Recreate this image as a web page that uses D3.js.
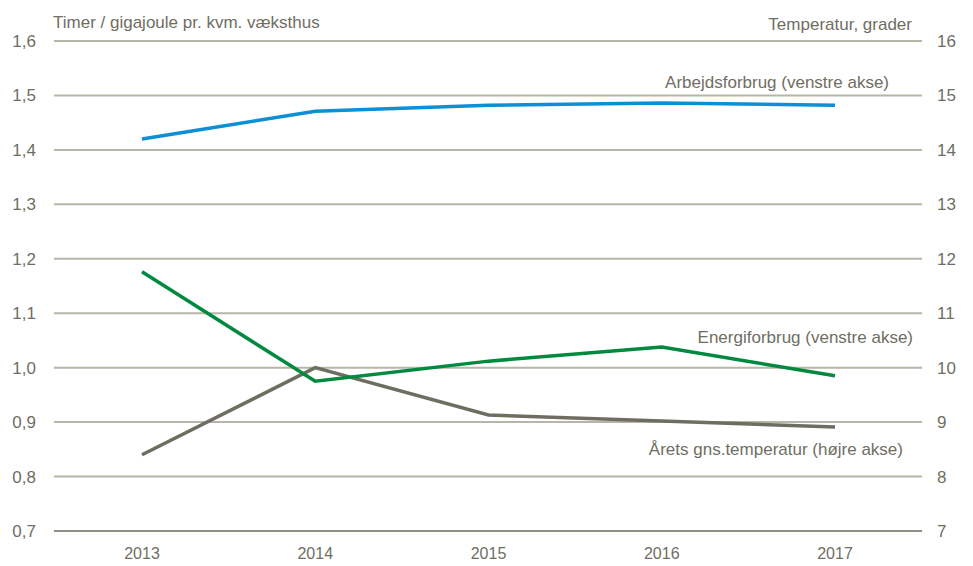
<!DOCTYPE html>
<html><head><meta charset="utf-8">
<script src="https://cdn.jsdelivr.net/npm/d3@7"></script>
<style>body{margin:0;background:#fff}text{font-family:"Liberation Sans Narrow","Arial Narrow","Liberation Sans",sans-serif;fill:#6f6e63}</style>
</head><body><svg id="c" width="973" height="566"></svg>
<script>
const years = ["2013","2014","2015","2016","2017"];
const arbejdsforbrug = [1.42, 1.471, 1.482, 1.486, 1.482];
const energiforbrug = [1.176, 0.975, 1.012, 1.038, 0.985];
const temperatur = [8.4, 10.0, 9.13, 9.02, 8.91];
const leftTicks = [0.7,0.8,0.9,1.0,1.1,1.2,1.3,1.4,1.5,1.6];
const rightTicks = [7,8,9,10,11,12,13,14,15,16];

const svg = d3.select("#c");
const x = d3.scalePoint().domain(years).range([142, 835]);
const yL = d3.scaleLinear().domain([0.7,1.6]).range([531,41]);
const yR = d3.scaleLinear().domain([7,16]).range([531,41]);
const fmt = d => d.toFixed(1).replace(".", ",");

// gridlines
svg.append("g").selectAll("line").data(leftTicks).join("line")
  .attr("x1",54).attr("x2",922).attr("y1",d=>yL(d)).attr("y2",d=>yL(d))
  .attr("stroke",d=>d===0.7?"#8f8e84":"#b7b5a8").attr("stroke-width",2);

// left axis labels
svg.append("g").selectAll("text").data(leftTicks).join("text")
  .attr("x",36).attr("y",d=>yL(d)+6).attr("text-anchor","end")
  .attr("font-size",17).text(fmt);
// right axis labels
svg.append("g").selectAll("text").data(rightTicks).join("text")
  .attr("x",937).attr("y",d=>yR(d)+6).attr("text-anchor","start")
  .attr("font-size",17).text(d=>d);
// x labels
svg.append("g").selectAll("text").data(years).join("text")
  .attr("x",d=>x(d)).attr("y",559).attr("text-anchor","middle")
  .attr("font-size",16).text(d=>d);

svg.append("text").attr("x",53).attr("y",28).attr("font-size",17).text("Timer / gigajoule pr. kvm. væksthus");
svg.append("text").attr("x",912).attr("y",30).attr("text-anchor","end").attr("font-size",17).text("Temperatur, grader");

const lineL = d3.line().x((d,i)=>x(years[i])).y(d=>yL(d));
const lineR = d3.line().x((d,i)=>x(years[i])).y(d=>yR(d));
svg.append("path").attr("d",lineR(temperatur)).attr("fill","none").attr("stroke","#6e6d61").attr("stroke-width",3.5);
svg.append("path").attr("d",lineL(energiforbrug)).attr("fill","none").attr("stroke","#00893f").attr("stroke-width",3.5);
svg.append("path").attr("d",lineL(arbejdsforbrug)).attr("fill","none").attr("stroke","#0b8fd5").attr("stroke-width",3.5);

svg.append("text").attr("x",889).attr("y",88).attr("text-anchor","end").attr("font-size",17).text("Arbejdsforbrug (venstre akse)");
svg.append("text").attr("x",913).attr("y",343).attr("text-anchor","end").attr("font-size",17).text("Energiforbrug (venstre akse)");
svg.append("text").attr("x",903).attr("y",455).attr("text-anchor","end").attr("font-size",17).text("Årets gns.temperatur (højre akse)");
</script></body></html>
